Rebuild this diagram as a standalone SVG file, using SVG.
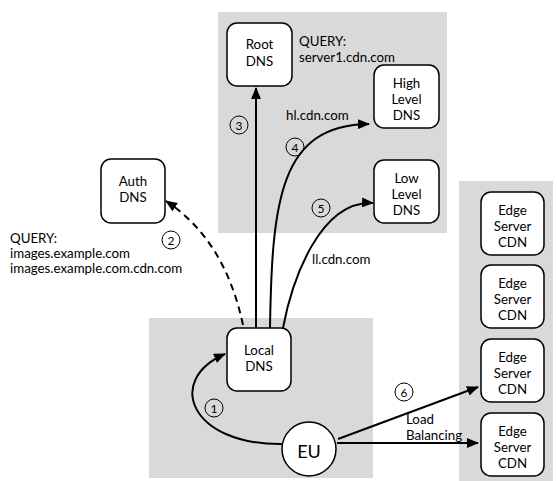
<svg xmlns="http://www.w3.org/2000/svg" width="557" height="481" viewBox="0 0 557 481">
<style>
.bg{fill:#d9d9d9;stroke:none}
.node{fill:#fff;stroke:#000;stroke-width:1.5}
.lbl{font-family:Lato,"Open Sans",sans-serif;font-size:13.3px;fill:#000;text-anchor:middle}
.txt{font-family:Lato,"Open Sans",sans-serif;font-size:13.3px;fill:#000}
.num{font-family:Lato,"Open Sans",sans-serif;font-size:12px;fill:#000;text-anchor:middle}
.c{fill:none;stroke:#000;stroke-width:1}
.edge{fill:none;stroke:#000;stroke-width:2;marker-end:url(#ah)}
</style>
<defs>
<marker id="ah" viewBox="0 0 12 10" refX="11" refY="5" markerWidth="12" markerHeight="10" markerUnits="userSpaceOnUse" orient="auto">
<path d="M0,0 L12,5 L0,10 z" fill="#000"/>
</marker>
</defs>
<rect width="557" height="481" fill="#fff"/>
<g id="panels">
<rect class="bg" x="218" y="12" width="229" height="221"/>
<rect class="bg" x="149" y="318" width="224" height="160"/>
<rect class="bg" x="459" y="181" width="94" height="300"/>
</g>
<g id="connectors">
<path class="edge" d="M256 328 L256 88"/>
<path class="edge" d="M270 328 C272 200 280 125 369 124"/>
<path class="edge" d="M283 328 C292 280 320 200 373 203"/>
<path class="edge" d="M243 325 Q225 240 166 201" stroke-dasharray="7,5"/>
<path class="edge" d="M282 444 C190 445 165 380 225 354"/>
<path class="edge" d="M338 439 L478 387"/>
<path class="edge" d="M337 443 L478 443"/>
</g>
<g id="root-dns"><rect class="node" x="227" y="23" width="65" height="63" rx="10"/><text class="lbl" x="259.5" y="49">Root</text><text class="lbl" x="259.5" y="66">DNS</text></g>
<g id="high-level-dns"><rect class="node" x="374" y="65" width="65" height="63" rx="10"/><text class="lbl" x="406.5" y="88">High</text><text class="lbl" x="406.5" y="104">Level</text><text class="lbl" x="406.5" y="120">DNS</text></g>
<g id="low-level-dns"><rect class="node" x="374" y="160" width="65" height="63" rx="10"/><text class="lbl" x="406.5" y="183">Low</text><text class="lbl" x="406.5" y="199">Level</text><text class="lbl" x="406.5" y="215">DNS</text></g>
<g id="auth-dns"><rect class="node" x="101" y="159" width="64" height="64" rx="10"/><text class="lbl" x="133" y="186">Auth</text><text class="lbl" x="133" y="202">DNS</text></g>
<g id="local-dns"><rect class="node" x="227" y="328" width="64" height="63" rx="10"/><text class="lbl" x="259" y="355">Local</text><text class="lbl" x="259" y="371">DNS</text></g>
<g id="eu"><circle class="node" cx="309" cy="449" r="27"/><text class="lbl" x="309" y="458" style="font-size:18px">EU</text></g>
<g id="edge1"><rect class="node" x="481" y="192" width="63" height="63" rx="10"/><text class="lbl" x="512.5" y="215">Edge</text><text class="lbl" x="512.5" y="231">Server</text><text class="lbl" x="512.5" y="247">CDN</text></g>
<g id="edge2"><rect class="node" x="481" y="265" width="63" height="63" rx="10"/><text class="lbl" x="512.5" y="288">Edge</text><text class="lbl" x="512.5" y="304">Server</text><text class="lbl" x="512.5" y="320">CDN</text></g>
<g id="edge3"><rect class="node" x="481" y="339" width="63" height="63" rx="10"/><text class="lbl" x="512.5" y="362">Edge</text><text class="lbl" x="512.5" y="378">Server</text><text class="lbl" x="512.5" y="394">CDN</text></g>
<g id="edge4"><rect class="node" x="481" y="413" width="63" height="63" rx="10"/><text class="lbl" x="512.5" y="436">Edge</text><text class="lbl" x="512.5" y="452">Server</text><text class="lbl" x="512.5" y="468">CDN</text></g>
<g id="labels">
<text class="txt" x="299" y="46">QUERY:</text>
<text class="txt" x="299" y="62">server1.cdn.com</text>
<text class="txt" x="286" y="120">hl.cdn.com</text>
<text class="txt" x="312" y="264">ll.cdn.com</text>
<text class="txt" x="10" y="243">QUERY:</text>
<text class="txt" x="10" y="258">images.example.com</text>
<text class="txt" x="10" y="273">images.example.com.cdn.com</text>
<text class="txt" x="406" y="424">Load</text>
<text class="txt" x="406" y="440">Balancing</text>
</g>
<g id="steps">
<circle class="c" cx="239" cy="125" r="9"/><text class="num" x="239" y="129.5">3</text>
<circle class="c" cx="295" cy="147" r="9"/><text class="num" x="295" y="151.5">4</text>
<circle class="c" cx="321" cy="208" r="9"/><text class="num" x="321" y="212.5">5</text>
<circle class="c" cx="171" cy="240" r="9"/><text class="num" x="171" y="244.5">2</text>
<circle class="c" cx="214" cy="408" r="9"/><text class="num" x="214" y="412.5">1</text>
<circle class="c" cx="404" cy="392" r="9"/><text class="num" x="404" y="396.5">6</text>
</g>
</svg>
